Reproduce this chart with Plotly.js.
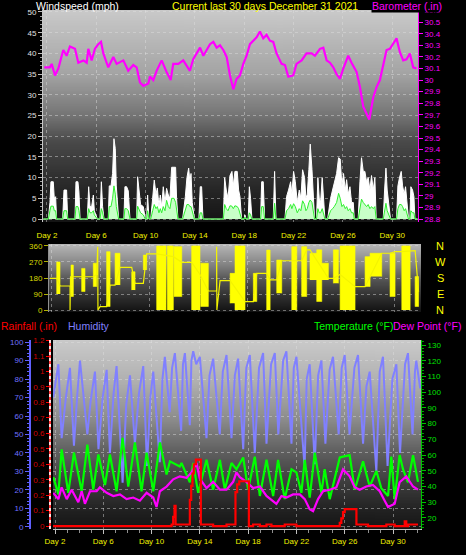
<!DOCTYPE html>
<html><head><meta charset="utf-8">
<script src="https://cdn.plot.ly/plotly-3.0.1.min.js"></script>
<style>html,body{margin:0;padding:0;background:#000;}#chart{width:466px;height:555px;}</style>
</head><body><div id="chart"></div>
<script>
// ---------- DATA ----------
const dayTicks = [2, 6, 10, 14, 18, 22, 26, 30];
const dayLabels = ['Day 2', 'Day 6', 'Day 10', 'Day 14', 'Day 18', 'Day 22', 'Day 26', 'Day 30'];

// Wind speed (mph): gust and average
const windDay = [1.70,
  2.11,2.24,2.32,2.51,2.59,2.70,2.78,
  3.27,3.38,3.59,3.68,
  4.27,4.35,4.51,4.59,4.68,
  5.27,5.38,5.49,5.62,5.76,5.84,5.97,6.08,
  6.30,6.41,6.51,6.62,
  6.97,7.05,7.19,7.32,7.43,7.54,7.62,7.70,7.81,
  8.24,8.32,8.46,8.59,8.73,
  9.27,9.35,9.49,9.59,9.81,9.97,10.08,10.16,10.27,
  10.41,10.57,10.70,10.84,10.95,11.08,11.19,11.30,11.43,11.57,11.70,11.84,11.97,12.11,12.30,12.43,12.51,12.62,
  13.00,13.11,13.22,13.35,13.49,13.59,13.68,13.78,13.86,13.95,
  14.32,14.43,14.54,14.65,
  16.30,16.41,16.54,16.68,16.84,17.00,17.11,17.24,17.43,17.54,17.65,17.78,
  18.00,18.05,18.14,
  18.32,18.41,18.51,18.62,
  19.32,19.41,19.54,19.65,
  20.35,20.46,20.57,
  21.30,21.43,21.59,21.76,21.86,22.00,22.14,22.30,22.46,22.59,22.73,22.89,23.00,23.11,23.24,23.35,23.49,23.59,23.70,
  23.86,23.97,24.08,24.19,24.32,24.43,24.54,
  24.76,24.86,25.00,25.16,25.30,25.49,25.65,25.78,25.92,26.05,26.19,26.30,26.43,26.57,26.70,26.84,26.92,
  27.24,27.38,27.51,27.65,27.78,27.92,28.05,28.19,28.32,28.46,28.59,28.70,
  29.27,29.38,29.49,29.59,29.73,29.86,
  30.35,30.46,30.59,30.73,30.84,30.97,31.08,31.22,31.32,31.43,31.51,31.65,31.76,31.84,
  32.05];
const windGust = [0,
  0,4,9,9,5,5.4,0,
  0,7,7,0,
  0,9,9,6.5,0,
  0,7.8,3,3,5.8,2,1,0,
  0,9,3,0,
  0,8,8,11,19.4,17,8,5,0,
  0,7.8,7.8,6.8,0,
  0,10.2,7,3.5,3,0,0,5.8,0,
  0,5,9.4,6,7.5,3,5.8,3,7.8,4,7.4,5.8,5,12.5,12.5,12.5,5,0,
  0,2.2,5.4,10,12.3,9,11,4,2,0,
  0,7.8,7.8,0,
  0,10,7,5,10.5,11.5,8,11.5,11.5,7,5.4,0,
  0,1,0,
  0,7.8,5,0,
  0,9,9,0,
  0,11.5,0,
  0,5.4,7,9,6,11.5,9,4,7,5,11.9,10,5,6,12,18.1,12,7,0,
  0,10,5,4,10,5,0,
  0,2.6,5,7,9,11,14.8,14.5,8,11,7,9.5,6,7.8,4,4,0,
  0,9,14.8,11.5,11.5,9,10,7,10.5,7,10,0,
  0,7,12.3,7,3,0,
  0,8,10,11.5,8,6,7.8,3,0,0,7.8,7,5.4,0,
  0];
const windAvg = [0,
  0,2,3.1,3.1,2,2,0,
  0,2,2,0,
  0,3,3,2,0,
  0,2.5,1.5,1.5,2,1,0.5,0,
  0,2.5,1.5,0,
  0,3,3,5,8,6,3,2,0,
  0,2.5,2.5,2,0,
  0,3.1,2,1.5,1,0,0,2,0,
  0,2,3.5,2.5,3,1.5,2.5,1.5,3,2,4.5,3,2.5,5,5,4,2,0,
  0,1,2,3.5,3.5,3,3,1.5,1,0,
  0,1.5,1.5,0,
  0,3.5,2.5,2,3.2,3.1,2.5,3.2,3,2.5,1.5,0,
  0,0.5,0,
  0,1.5,1,0,
  0,3,3,0,
  0,3.8,0,
  0,2,2.5,3.5,2.5,3.7,3,1.5,2.5,2,4.4,3.5,2,2.5,4,4.6,4,2.5,0,
  0,2.5,1.5,1.5,2.5,1.5,0,
  0,1,2,2.5,3,4,6.2,5,3,3.5,2.5,3,2,2.5,1.5,1.5,0,
  0,3,4.8,4,3.5,3,3.5,2.5,3,2.5,3,0,
  0,2,3.8,2,1,0,
  0,2.5,3.5,3.5,3,2,2.5,1,0,0,2,1.5,1.5,0,
  0];
const windTicks = [0,5,10,15,20,25,30,35,40,45,50];

// Barometer (in)
const baroDay = [1.78,2.24,2.38,2.65,2.92,3.32,3.59,3.86,4.27,4.54,4.95,5.22,5.35,5.62,5.89,6.16,6.38,6.57,6.97,7.38,
  7.65,8.19,8.59,9.00,9.27,9.54,9.81,10.22,10.35,10.62,10.89,11.30,11.70,12.03,12.24,12.65,13.05,13.32,13.59,13.86,
  14.41,14.68,15.22,15.49,15.76,16.03,16.30,16.57,16.84,17.11,17.38,17.65,17.92,18.19,18.46,18.73,19.00,19.27,19.54,19.81,
  20.08,20.35,20.62,21.03,21.30,21.57,21.97,22.24,22.65,23.05,23.46,23.73,24.14,24.41,24.68,24.95,25.22,25.49,25.76,26.03,
  26.43,26.70,27.11,27.38,27.65,27.92,28.14,28.46,28.73,29.00,29.27,29.54,29.81,30.08,30.35,30.62,30.89,31.16,31.43,31.70,31.97];
const baroVal = [30.11,30.11,30.14,30.04,30.10,30.26,30.21,30.29,30.27,30.15,30.17,30.15,30.27,30.17,30.27,30.31,30.33,30.23,30.11,30.20,
  30.14,30.17,30.08,30.13,30.11,29.98,29.95,29.97,30.03,30.00,30.08,30.17,30.07,30.00,30.14,30.14,30.17,30.13,30.08,30.18,
  30.28,30.21,30.31,30.33,30.28,30.30,30.26,30.20,30.04,29.92,30.01,30.04,30.14,30.21,30.31,30.34,30.37,30.42,30.36,30.39,
  30.34,30.33,30.23,30.14,30.13,30.03,30.04,30.14,30.17,30.23,30.23,30.21,30.27,30.28,30.17,30.15,30.11,30.05,30.01,30.10,
  30.21,30.15,30.07,29.94,29.77,29.71,29.66,29.85,29.94,30.00,30.14,30.26,30.27,30.31,30.36,30.24,30.17,30.18,30.23,30.11,30.10];
const baroTicks = [28.8,28.9,29.0,29.1,29.2,29.3,29.4,29.5,29.6,29.7,29.8,29.9,30.0,30.1,30.2,30.3,30.4,30.5,30.6];

// Wind direction (degrees): steady segments and fluctuating spans (low..high)
const dirDay = [1.88,2.43,2.70,3.52,3.52,3.56,4.47,4.74,5.42,5.70,5.78,5.80,5.97,6.51,6.79,7.20,7.60,8.56,8.83,9.51,
  9.78,10.46,10.60,11.96,12.65,13.46,14.14,14.82,15.50,15.50,15.52,15.78,16.60,17.82,18.50,18.78,19.59,19.87,20.41,20.82,
  21.64,22.05,22.45,22.86,23.13,24.63,25.04,25.59,26.81,27.63,28.99,29.67,30.08,30.63,31.31,31.72,32.00];
const dirVal = [178,178,135,135,0,187,187,187,187,200,356,0,19,19,140,140,240,240,150,150,
  315,315,315,300,268,268,200,107,107,356,0,165,165,47,47,206,206,169,169,277,
  277,277,277,338,338,178,178,200,131,131,319,319,328,328,334,334,103];
const dirSpanStart = [2.43,3.60,4.47,5.42,6.51,7.20,8.56,9.51,10.60,11.47,12.02,13.46,14.20,16.60,17.00,18.50,19.59,20.41,21.64,22.45,23.13,23.68,24.09,25.04,25.59,27.63,28.04,29.67,30.63,31.72];
const dirSpanEnd   = [2.70,3.79,4.74,5.70,6.79,7.60,8.83,9.78,11.36,11.96,12.65,14.14,14.82,17.00,17.82,18.78,19.87,20.82,22.05,22.86,23.68,24.09,24.63,25.45,26.81,28.04,28.99,30.08,31.31,32.00];
const dirSpanLow   = [90,75,103,131,19,140,112,225,0,0,75,0,19,38,0,47,0,94,0,75,169,47,169,150,0,131,188,75,0,19];
const dirSpanHigh  = [270,253,234,263,328,319,215,309,360,360,356,360,263,206,360,206,337,281,356,356,319,338,263,338,360,300,319,319,360,188];
const dirTicks = [0, 90, 180, 270, 360];
const dirCompass = ['N', 'E', 'S', 'W', 'N'];

// Humidity (%)
const humDay = [1.85,2.28,2.55,2.90,3.24,3.57,3.85,4.07,4.68,4.95,5.31,5.60,5.95,6.28,6.55,6.85,7.10,7.60,7.90,8.21,
  8.62,8.95,9.31,9.62,9.90,10.14,10.68,10.90,11.10,11.50,11.70,11.93,12.45,12.60,12.76,13.17,13.30,13.45,13.70,14.00,
  14.55,14.80,15.10,15.65,15.90,16.21,16.62,16.90,17.17,17.59,17.85,18.14,18.55,18.90,19.24,19.52,19.90,20.21,20.50,20.90,
  21.17,21.59,21.78,22.00,22.68,22.85,23.10,23.52,23.80,24.07,24.40,24.75,25.03,25.50,25.75,26.00,26.40,26.80,27.10,27.52,
  27.80,28.07,28.62,28.90,29.17,29.55,29.95,30.28,30.58,31.00,31.24,31.62,31.82,31.93,32.25];
const humVal = [70,88,48,70,86,44,72,90,50,68,84,42,70,85,40,72,87,24,66,82,
  45,72,87,33,70,84,35,80,92,62,86,94,52,88,94,55,90,95,88,92,
  48,82,91,50,84,93,48,82,91,42,86,93,40,86,94,45,88,94,50,90,
  95,45,86,92,32,80,88,34,82,90,45,85,92,50,86,93,50,86,93,45,
  76,84,30,84,92,33,80,88,40,88,94,50,84,90,75];
const humTicks = [0,10,20,30,40,50,60,70,80,90,100];

// Temperature and dew point (°F)
const tempDay = [1.86,2.28,2.55,3.10,3.57,4.21,4.68,5.17,5.59,6.14,6.55,7.10,7.60,8.07,8.62,9.17,9.59,10.14,10.69,11.24,
  11.52,12.34,12.48,13.17,13.45,13.86,14.55,15.10,15.66,16.07,16.62,17.03,17.59,18.00,18.55,18.97,19.52,20.07,20.48,21.03,
  21.59,22.00,22.41,22.69,23.10,23.52,24.07,24.34,24.76,25.17,25.59,25.86,26.41,26.83,27.52,28.07,28.62,29.03,29.59,29.86,
  30.14,30.55,30.83,31.24,31.66,32.07];
const tempVal = [46,35,63.6,36,61.6,37,66.7,38,60.4,41,60.4,37,71,40,68,37,61.6,37,68,47.7,
  56,52.8,55,42.7,55,36,57,38,57,38,55,51,58.5,38,59,34,57,34,57,32,
  51,49,36,57,33,61.6,36,51,32,44.6,58.5,59,60,38,56,40,50,39,34,59,
  32,60,51,42.7,60,43];
const dewDay = [1.86,2.28,2.55,2.97,3.38,3.93,4.21,4.48,4.90,5.45,5.72,6.28,6.83,7.38,7.93,8.48,9.03,9.59,10.14,10.41,
  10.69,11.24,11.79,12.34,12.90,13.31,13.72,14.00,14.55,15.10,15.66,16.21,16.76,17.03,17.31,17.86,18.41,18.97,19.52,20.07,
  20.34,20.76,21.17,21.72,22.28,22.69,23.10,23.38,23.79,24.21,24.76,25.31,25.86,26.41,26.83,27.24,27.79,28.34,28.90,29.31,
  29.59,30.14,30.55,31.10,31.66,32.07];
const dewVal = [36,32,39.5,32,38,30,37,29,37,37,39.5,36,34,35,32,33,31,36,33,27,
  37,40,44.6,46.5,45.5,49,55,45,39,43,38,38,43,49,46,43,39,40,34,31,
  29,34,33,35,35,32,25.6,24.3,32,37,38,39.5,51,46.5,39.5,38,40,41,37,31,
  27,29,42.7,46.5,40,38];
const tempTicks = [20,30,40,50,60,70,80,90,100,110,120,130];

// Rainfall (in)
const rainDay = [1.84,11.66,11.79,11.90,11.99,13.17,13.28,13.39,13.50,13.67,14.08,15.10,16.21,16.95,17.09,17.26,18.06,18.41,18.97,19.52,
  19.93,21.03,22.00,25.59,25.72,25.86,26.00,26.97,27.93,29.45,30.14,30.97,31.10,31.24,32.07];
const rainVal = [0,0.01,0.06,0.13,0.01,0.17,0.26,0.34,0.40,0.43,0.01,0,0.01,0.22,0.27,0.29,0,0.01,0,0.01,
  0,0.01,0,0.02,0.05,0.09,0.11,0.01,0,0.01,0,0.03,0,0.01,0.01];
const rainTicks = [0,0.1,0.2,0.3,0.4,0.5,0.6,0.7,0.8,0.9,1.0,1.1,1.2];

// ---------- LAYOUT HELPERS ----------
const W = 466, H = 555;
const px = x => x / W;
const py = y => 1 - y / H;
const FONT = 'Liberation Sans, Arial, sans-serif';
const GRID = 'rgba(225,225,225,0.45)';
const TITLE_SIZE = 10.5;

function grad(stops) {
  const c = document.createElement('canvas'); c.width = 4; c.height = 256;
  const g = c.getContext('2d'); const lg = g.createLinearGradient(0, 0, 0, 256);
  stops.forEach(s => lg.addColorStop(s[0], s[1]));
  g.fillStyle = lg; g.fillRect(0, 0, 4, 256);
  return c.toDataURL();
}
function bgImage(x0, x1, y0, y1, stops) {
  return {source: grad(stops), xref: 'paper', yref: 'paper', x: px(x0), y: py(y0),
    sizex: px(x1) - px(x0), sizey: py(y0) - py(y1), sizing: 'stretch',
    xanchor: 'left', yanchor: 'top', layer: 'below'};
}

// direction spans as closed shapes
const spanX = [], spanY = [];
for (let i = 0; i < dirSpanStart.length; i++) {
  spanX.push(dirSpanStart[i], dirSpanStart[i], dirSpanEnd[i], dirSpanEnd[i], null);
  spanY.push(dirSpanLow[i], dirSpanHigh[i], dirSpanHigh[i], dirSpanLow[i], null);
}
const num = v => String(+v.toFixed(1));

const traces = [
  {x: windDay, y: windGust, xaxis: 'x', yaxis: 'y', type: 'scatter', mode: 'lines', fill: 'tozeroy',
   fillcolor: '#ffffff', line: {color: '#ffffff', width: 1}},
  {x: windDay, y: windAvg, xaxis: 'x', yaxis: 'y', type: 'scatter', mode: 'lines', fill: 'tozeroy',
   fillcolor: '#c8ffc8', line: {color: '#30f030', width: 1}},
  {x: baroDay, y: baroVal, xaxis: 'x', yaxis: 'y2', type: 'scatter', mode: 'lines',
   line: {color: '#ff00ff', width: 2.2}},
  {x: spanX, y: spanY, xaxis: 'x2', yaxis: 'y3', type: 'scatter', mode: 'lines', fill: 'toself',
   fillcolor: '#ffff00', line: {color: '#ffff00', width: 0.6}},
  {x: dirDay, y: dirVal, xaxis: 'x2', yaxis: 'y3', type: 'scatter', mode: 'lines',
   line: {color: '#f4f400', width: 1.2}},
  {x: humDay, y: humVal, xaxis: 'x3', yaxis: 'y4', type: 'scatter', mode: 'lines',
   line: {color: '#8080ff', width: 2}},
  {x: tempDay, y: tempVal, xaxis: 'x3', yaxis: 'y5', type: 'scatter', mode: 'lines',
   line: {color: '#00ff00', width: 2.2}},
  {x: dewDay, y: dewVal, xaxis: 'x3', yaxis: 'y5', type: 'scatter', mode: 'lines',
   line: {color: '#ff00ff', width: 2.2}},
  {x: rainDay, y: rainVal, xaxis: 'x3', yaxis: 'y6', type: 'scatter', mode: 'lines',
   line: {color: '#ff0000', width: 2.2, shape: 'hv'}}
];

const tickF = (c) => ({family: FONT, size: 8, color: c});
const layout = {
  width: W, height: H, margin: {l: 0, r: 0, t: 0, b: 0},
  paper_bgcolor: '#000000', plot_bgcolor: 'rgba(0,0,0,0)',
  showlegend: false, font: {family: FONT, size: 9, color: '#ffffff'},
  xaxis: {domain: [px(43), px(418)], anchor: 'y', range: [1.676, 32.09],
    tickmode: 'array', tickvals: dayTicks, ticktext: dayLabels, tickfont: tickF('#f0f000'),
    ticks: 'outside', ticklen: 5, tickcolor: 'rgba(0,0,0,0)',
    showgrid: true, gridcolor: GRID, griddash: 'dot', zeroline: false, showline: false},
  yaxis: {domain: [py(222), py(10)], anchor: 'x', range: [-0.72, 50.48],
    tickmode: 'array', tickvals: windTicks, tickfont: tickF('#e0e0e0'),
    ticks: 'outside', ticklen: 4, tickcolor: '#c0c0c0',
    minor: {tickmode: 'linear', tick0: 0, dtick: 1, ticklen: 2, tickcolor: '#a0a0a0', showgrid: false},
    showline: true, linecolor: '#c8c8c8', linewidth: 1,
    showgrid: true, gridcolor: GRID, griddash: 'dot', zeroline: false},
  yaxis2: {overlaying: 'y', side: 'right', anchor: 'x', range: [28.775, 30.605],
    tickmode: 'array', tickvals: baroTicks, ticktext: baroTicks.map(num), tickfont: tickF('#ff00ff'),
    ticks: 'outside', ticklen: 4, tickcolor: '#ff00ff',
    showline: true, linecolor: '#ff00ff', linewidth: 1, showgrid: false, zeroline: false},
  xaxis2: {domain: [px(49), px(421)], anchor: 'y3', range: [1.8, 32.2],
    tickmode: 'array', tickvals: dayTicks, showticklabels: false, ticks: '',
    showgrid: true, gridcolor: GRID, griddash: 'dot', zeroline: false, showline: false},
  yaxis3: {domain: [py(312), py(244)], anchor: 'x2', range: [-11, 371],
    tickmode: 'array', tickvals: dirTicks, tickfont: tickF('#d8d800'),
    ticks: 'outside', ticklen: 4, tickcolor: '#b0b000',
    showline: true, linecolor: '#909090', linewidth: 1,
    showgrid: true, gridcolor: GRID, griddash: 'dot', zeroline: false},
  xaxis3: {domain: [px(53), px(421)], anchor: 'y4', range: [1.834, 32.32],
    tickmode: 'array', tickvals: dayTicks, ticktext: dayLabels, tickfont: tickF('#f0f000'),
    ticks: 'outside', ticklen: 4, tickcolor: '#c0c0c0',
    minor: {tickmode: 'linear', tick0: 0, dtick: 1, ticklen: 3, tickcolor: '#909090', showgrid: false},
    showline: true, linecolor: '#c0c0c0', linewidth: 1,
    showgrid: true, gridcolor: GRID, griddash: 'dot', zeroline: false},
  yaxis4: {domain: [py(529), py(340)], anchor: 'free', position: px(30), side: 'left', range: [-1.1, 101.1],
    tickmode: 'array', tickvals: humTicks, tickfont: tickF('#7070ff'),
    ticks: 'outside', ticklen: 4, tickcolor: '#6060ff',
    minor: {tickmode: 'linear', tick0: 0, dtick: 2, ticklen: 2, tickcolor: '#6060ff', showgrid: false},
    showline: true, linecolor: '#6060ff', linewidth: 2,
    showgrid: true, gridcolor: GRID, griddash: 'dot', zeroline: false},
  yaxis5: {overlaying: 'y4', side: 'right', anchor: 'x3', range: [13, 133.2],
    tickmode: 'array', tickvals: tempTicks, tickfont: tickF('#00e000'),
    ticks: 'outside', ticklen: 4, tickcolor: '#00c000',
    minor: {tickmode: 'linear', tick0: 0, dtick: 2, ticklen: 2, tickcolor: '#00a000', showgrid: false},
    showline: true, linecolor: '#00c000', linewidth: 1, showgrid: false, zeroline: false},
  yaxis6: {overlaying: 'y4', side: 'left', anchor: 'free', position: px(50), range: [-0.019, 1.2036],
    tickmode: 'array', tickvals: rainTicks, ticktext: rainTicks.map(num), tickfont: tickF('#d00000'),
    ticks: 'outside', ticklen: 3, tickcolor: '#ff0000',
    showline: true, linecolor: '#ff3030', linewidth: 2, showgrid: false, zeroline: false},
  shapes: [
    {type: 'line', xref: 'paper', yref: 'paper', x0: px(50), x1: px(50), y0: py(529), y1: py(340),
     line: {color: 'rgba(255,255,255,0.85)', width: 2, dash: 'dot'}, layer: 'above'}
  ],
  images: [
    bgImage(43, 418, 10, 222, [[0, '#cacaca'], [0.3, '#a4a4a4'], [0.5, '#747474'], [0.62, '#4a4a4a'], [0.85, '#262626'], [1, '#141414']]),
    bgImage(49, 421, 244, 312, [[0, '#b8b8b8'], [0.3, '#848484'], [0.55, '#505050'], [0.8, '#2c2c2c'], [1, '#121212']]),
    bgImage(53, 421, 340, 529, [[0, '#cacaca'], [0.22, '#b0b0b0'], [0.42, '#8c8c8c'], [0.58, '#626262'], [0.74, '#404040'], [0.9, '#222222'], [1, '#141414']])
  ],
  annotations: [
    {text: 'Windspeed (mph)', xref: 'paper', yref: 'paper', x: px(34), y: py(5.5), xanchor: 'left', yanchor: 'middle',
     showarrow: false, font: {family: FONT, size: TITLE_SIZE, color: '#ffffff'}},
    {text: 'Current last 30 days December 31 2021', xref: 'paper', yref: 'paper', x: px(265), y: py(5.5), xanchor: 'center', yanchor: 'middle',
     showarrow: false, font: {family: FONT, size: TITLE_SIZE, color: '#ffff00'}},
    {text: 'Barometer (.in)', xref: 'paper', yref: 'paper', x: px(443), y: py(5.5), xanchor: 'right', yanchor: 'middle',
     showarrow: false, bgcolor: '#000000', borderpad: 0, font: {family: FONT, size: TITLE_SIZE, color: '#ff00ff'}},
    {text: 'Rainfall (.in)', xref: 'paper', yref: 'paper', x: px(-1), y: py(326), xanchor: 'left', yanchor: 'middle',
     showarrow: false, font: {family: FONT, size: TITLE_SIZE, color: '#ff0000'}},
    {text: 'Humidity', xref: 'paper', yref: 'paper', x: px(66), y: py(326), xanchor: 'left', yanchor: 'middle',
     showarrow: false, font: {family: FONT, size: TITLE_SIZE, color: '#8080ff'}},
    {text: 'Temperature (°F)', xref: 'paper', yref: 'paper', x: px(312), y: py(326), xanchor: 'left', yanchor: 'middle',
     showarrow: false, font: {family: FONT, size: TITLE_SIZE, color: '#00ff00'}},
    {text: 'Dew Point (°F)', xref: 'paper', yref: 'paper', x: px(391), y: py(326), xanchor: 'left', yanchor: 'middle',
     showarrow: false, font: {family: FONT, size: TITLE_SIZE, color: '#ff00ff'}}
  ].concat(dirTicks.map((v, i) => ({text: dirCompass[i], xref: 'paper', yref: 'y3', x: px(440), y: v,
     xanchor: 'center', yanchor: 'middle', showarrow: false, font: {family: FONT, size: 11, color: '#ffff00'}})))
};

Plotly.newPlot('chart', traces, layout, {staticPlot: true, displayModeBar: false});
</script></body></html>
